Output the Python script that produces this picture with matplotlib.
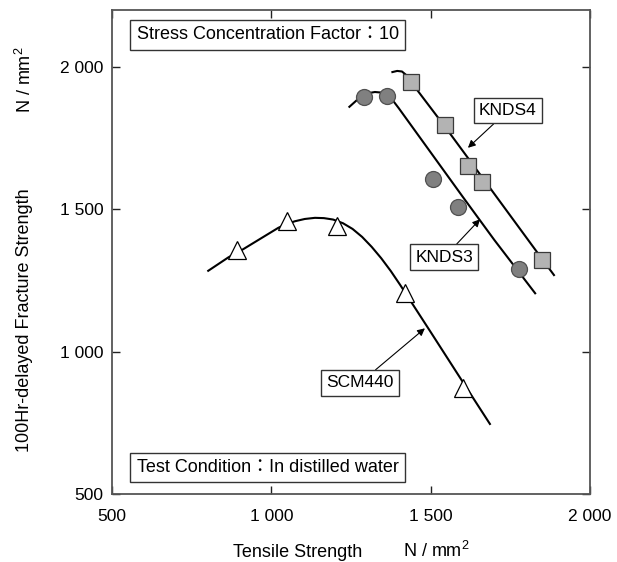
import matplotlib

matplotlib.use("Agg")
import matplotlib.pyplot as plt

plt.rcParams.update(
    {
        "font.family": ["Liberation Sans", "DejaVu Sans"],
        "mathtext.fontset": "custom",
        "mathtext.rm": "Liberation Sans",
        "mathtext.it": "Liberation Sans:italic",
        "figure.facecolor": "white",
        "savefig.facecolor": "white",
    }
)

# measured points, tensile strength (N/mm2) vs 100 h delayed fracture strength
scm440_x = [893, 1050, 1205, 1419, 1600]
scm440_y = [1357, 1460, 1442, 1205, 873]
knds3_x = [1292, 1363, 1506, 1585, 1776]
knds3_y = [1895, 1898, 1606, 1507, 1289]
knds4_x = [1438, 1545, 1618, 1660, 1850]
knds4_y = [1948, 1796, 1652, 1597, 1322]

# trend curves
scm440_curve_x = [802, 865, 912, 1022, 1050, 1074, 1105, 1137, 1165, 1194, 1225, 1255,
                  1285, 1315, 1345, 1375, 1404, 1500, 1600, 1686]
scm440_curve_y = [1284, 1331, 1360, 1435, 1449, 1458, 1466, 1470, 1469, 1464, 1451, 1431,
                  1403, 1368, 1328, 1283, 1235, 1069, 895, 746]
knds3_curve_x = [1245, 1270, 1292, 1310, 1325, 1345, 1363, 1383, 1400, 1500, 1600, 1700, 1828]
knds3_curve_y = [1860, 1885, 1900, 1909, 1912, 1910, 1900, 1880, 1855, 1700, 1545, 1392, 1205]
knds4_curve_x = [1380, 1395, 1410, 1425, 1438, 1545, 1660, 1850, 1887]
knds4_curve_y = [1982, 1986, 1984, 1970, 1948, 1790, 1615, 1325, 1269]

ticks = [500, 1000, 1500, 2000]
tick_labels = ["500", "1 000", "1 500", "2 000"]

fig = plt.figure(figsize=(6.17, 5.62), dpi=100)
ax = fig.add_axes([0.1815, 0.121, 0.7747, 0.8612])
ax.set_xlim(500, 2000)
ax.set_ylim(500, 2200)

line_kw = dict(color="black", linewidth=1.5, zorder=2, solid_joinstyle="round")
ax.plot(scm440_curve_x, scm440_curve_y, **line_kw)
ax.plot(knds3_curve_x, knds3_curve_y, **line_kw)
ax.plot(knds4_curve_x, knds4_curve_y, **line_kw)

ax.plot(scm440_x, scm440_y, linestyle="none", marker="^", markersize=13,
        markerfacecolor="white", markeredgecolor="black", markeredgewidth=0.9, zorder=3)
ax.plot(knds3_x, knds3_y, linestyle="none", marker="o", markersize=11.5,
        markerfacecolor="#808080", markeredgecolor="#505050", markeredgewidth=0.9, zorder=3)
ax.plot(knds4_x, knds4_y, linestyle="none", marker="s", markersize=11,
        markerfacecolor="#b3b3b3", markeredgecolor="#3a3a3a", markeredgewidth=0.9, zorder=3)

box = dict(boxstyle="square,pad=0.3", facecolor="white", edgecolor="#333333", linewidth=1.0)
arrow = dict(arrowstyle="-|>", color="black", linewidth=0.8, mutation_scale=11,
             shrinkA=0, shrinkB=0)
ax.annotate("KNDS4", xy=(1617, 1716), xytext=(1742, 1846), ha="center", va="center",
            fontsize=12.5, bbox=box, arrowprops=arrow, zorder=4)
ax.annotate("KNDS3", xy=(1655, 1465), xytext=(1543, 1332), ha="center", va="center",
            fontsize=12.5, bbox=box, arrowprops=arrow, zorder=4)
ax.annotate("SCM440", xy=(1482, 1082), xytext=(1278, 890), ha="center", va="center",
            fontsize=12.5, bbox=box, arrowprops=arrow, zorder=4)

wide_box = dict(boxstyle="square,pad=0.35", facecolor="white", edgecolor="#333333", linewidth=1.0)
ax.text(577, 2113, "Stress Concentration Factor\uff1a10", ha="left", va="center",
        fontsize=13, bbox=wide_box, family=["Liberation Sans", "Noto Sans CJK JP", "DejaVu Sans"])
ax.text(577, 593, "Test Condition\uff1aIn distilled water", ha="left", va="center",
        fontsize=13, bbox=wide_box, family=["Liberation Sans", "Noto Sans CJK JP", "DejaVu Sans"])

ax.set_xticks(ticks)
ax.set_xticklabels(tick_labels)
ax.set_yticks(ticks)
ax.set_yticklabels(tick_labels)
ax.tick_params(axis="both", direction="in", length=6, width=1.0, color="#222222",
               labelsize=12.5, top=True, right=True)
ax.tick_params(axis="x", pad=11)
ax.tick_params(axis="y", pad=6)
for spine in ax.spines.values():
    spine.set_color("#555555")
    spine.set_linewidth(1.3)

fig.text(0.3776, 0.0089, "Tensile Strength", ha="left", va="baseline", fontsize=13)
fig.text(0.6532, 0.0089, "N / mm$^{2}$", ha="left", va="baseline", fontsize=13)
fig.text(0.0405, 0.4306, "100Hr-delayed Fracture Strength", ha="center", va="center",
         rotation=90, fontsize=13)
fig.text(0.0405, 0.8577, "N / mm$^{2}$", ha="center", va="center", rotation=90, fontsize=13)

fig.savefig("out.png", dpi=100)
